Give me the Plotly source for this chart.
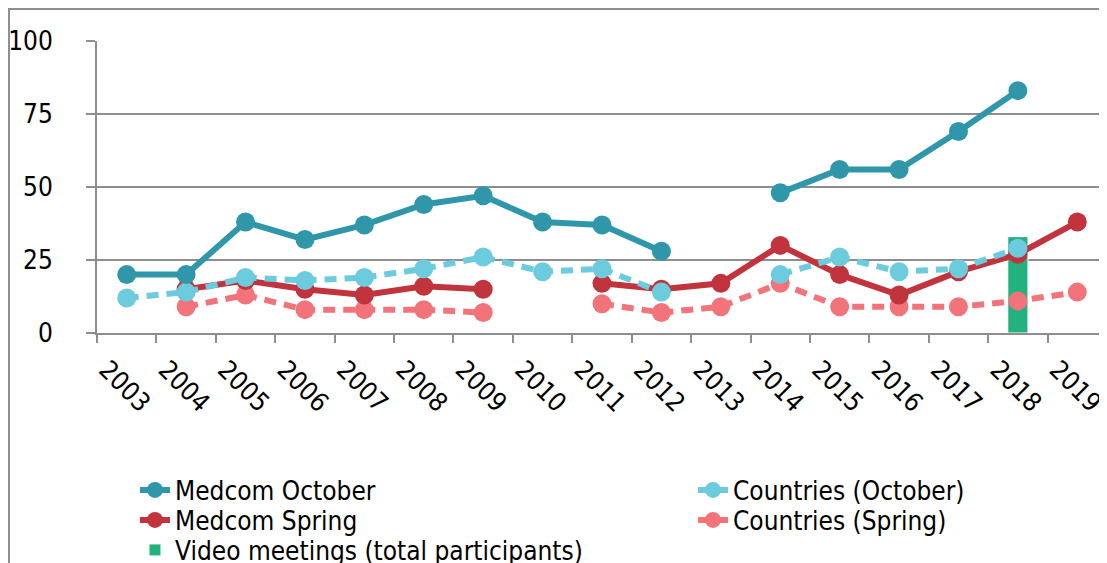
import plotly.graph_objects as go

years = ["2003", "2004", "2005", "2006", "2007", "2008", "2009", "2010", "2011",
         "2012", "2013", "2014", "2015", "2016", "2017", "2018", "2019"]
medcom_october = [20, 20, 38, 32, 37, 44, 47, 38, 37, 28, None, 48, 56, 56, 69, 83, None]
medcom_spring = [None, 15, 18, 15, 13, 16, 15, None, 17, 15, 17, 30, 20, 13, 21, 27, 38]
countries_october = [12, 14, 19, 18, 19, 22, 26, 21, 22, 14, None, 20, 26, 21, 22, 29, None]
countries_spring = [None, 9, 13, 8, 8, 8, 7, None, 10, 7, 9, 17, 9, 9, 9, 11, 14]
video_meetings = [None, None, None, None, None, None, None, None, None, None, None,
                  None, None, None, None, 33, None]

C_TEAL = "#2f97a9"
C_RED = "#c1333d"
C_CYAN = "#6ccbdd"
C_PINK = "#f3737b"
C_GREEN = "#22b17f"
GRID = "#8e8e8e"
FONT = "DejaVu Sans Condensed, DejaVu Sans, sans-serif"
LW = 6
MS = 19

fig = go.Figure()
fig.add_trace(go.Bar(x=years, y=video_meetings, name="Video meetings (total participants)",
                     width=0.34, marker=dict(color=C_GREEN, line=dict(color="white", width=1)),
                     legend="legend5"))
fig.add_trace(go.Scatter(x=years, y=countries_spring, name="Countries (Spring)",
                         mode="lines+markers", line=dict(color=C_PINK, width=LW, dash="12px,8px"),
                         marker=dict(size=MS, color=C_PINK), legend="legend4"))
fig.add_trace(go.Scatter(x=years, y=medcom_spring, name="Medcom Spring",
                         mode="lines+markers", line=dict(color=C_RED, width=LW),
                         marker=dict(size=MS, color=C_RED), legend="legend3"))
fig.add_trace(go.Scatter(x=years, y=countries_october, name="Countries (October)",
                         mode="lines+markers", line=dict(color=C_CYAN, width=LW, dash="12px,8px"),
                         marker=dict(size=MS, color=C_CYAN), legend="legend2"))
fig.add_trace(go.Scatter(x=years, y=medcom_october, name="Medcom October",
                         mode="lines+markers", line=dict(color=C_TEAL, width=LW),
                         marker=dict(size=MS, color=C_TEAL), legend="legend"))


def leg(x, y):
    return dict(x=x, y=y, xanchor="left", yanchor="middle", bgcolor="rgba(0,0,0,0)",
                font=dict(size=26, family=FONT, color="black"), itemwidth=30)


ROW1, ROW2, ROW3 = -0.5377, -0.6404, -0.7432
COL1, COL2 = 0.0376, 0.5901

fig.update_layout(
    width=1099, height=555,
    margin=dict(l=89, r=0, t=33, b=230, autoexpand=False),
    paper_bgcolor="white", plot_bgcolor="white",
    font=dict(family=FONT, color="black", size=24),
    showlegend=True,
    legend=leg(COL1, ROW1),
    legend3=leg(COL1, ROW2),
    legend5=leg(COL1, ROW3),
    legend2=leg(COL2, ROW1),
    legend4=leg(COL2, ROW2),
    xaxis=dict(type="category", range=[-0.5, 16.5], showgrid=False, zeroline=False,
               showline=True, linecolor=GRID, linewidth=2, automargin=False,
               ticks="outside", tickson="boundaries", ticklen=8, tickwidth=2, tickcolor=GRID,
               tickangle=45, ticklabelshift=-20, ticklabelstandoff=9,
               tickfont=dict(size=26, family=FONT, color="black")),
    yaxis=dict(range=[0, 100], dtick=25, showgrid=True, gridcolor=GRID, gridwidth=2,
               zeroline=False, showline=True, linecolor=GRID, linewidth=2, automargin=False,
               ticks="outside", ticklen=9, tickwidth=2, tickcolor=GRID,
               ticklabelstandoff=28, tickfont=dict(size=26, family=FONT, color="black")),
    shapes=[dict(type="rect", xref="paper", yref="paper", x0=-0.0871, x1=1.2, y0=-2, y1=1.1096,
                 line=dict(color=GRID, width=2), fillcolor="rgba(0,0,0,0)", layer="below")],
)

fig.write_html("out.html")
